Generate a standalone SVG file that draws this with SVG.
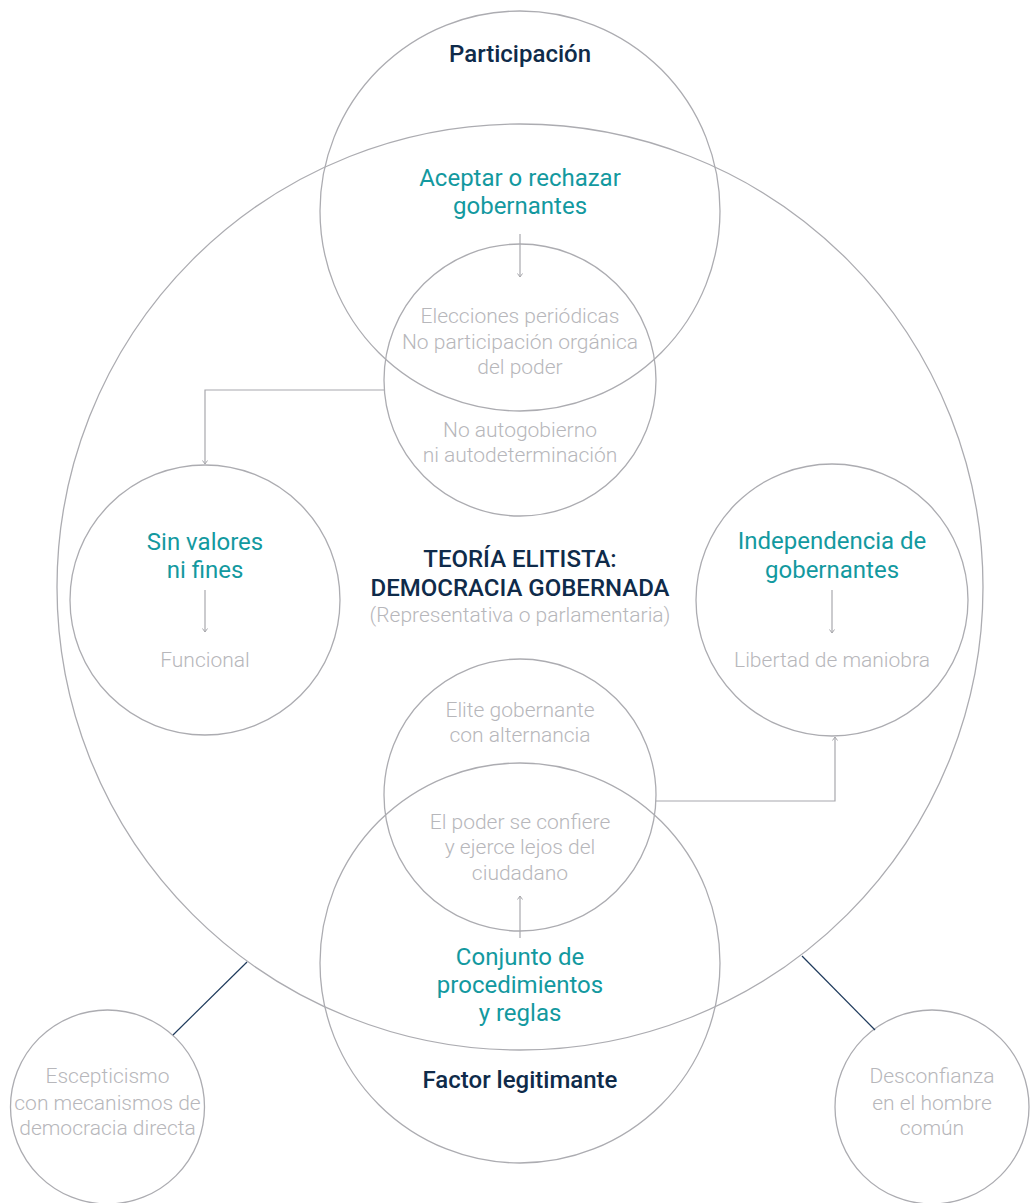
<svg xmlns="http://www.w3.org/2000/svg" width="1030" height="1203" viewBox="0 0 1030 1203">
<defs>
<marker id="ah" viewBox="0 0 8 8" refX="7" refY="4" markerWidth="8" markerHeight="8" markerUnits="userSpaceOnUse" orient="auto-start-reverse">
<path d="M3.5,1.5 L7,4 L3.5,6.5" fill="none" stroke="#a8a8ad" stroke-width="1"/>
</marker>
<style>
.c{fill:none;stroke:#acacb1;stroke-width:1.3}
.t{font-family:Roboto,"Liberation Sans",sans-serif;text-anchor:middle}
.nv{fill:#0f2b4a;font-weight:500;font-size:24px}
.tl{fill:#13999f;font-size:24px}
.g{fill:#b7b7bb;font-weight:300;font-size:21px}
.cn{fill:none;stroke:#a8a8ad;stroke-width:1.2}
.dk{fill:none;stroke:#1e3a5c;stroke-width:1.2}
</style>
</defs>
<rect width="1030" height="1203" fill="#ffffff"/>
<g id="main">
<circle class="c" cx="520" cy="587" r="463"/>
<text class="t nv" x="520" y="567">TEORÍA ELITISTA:</text>
<text class="t nv" x="520" y="596">DEMOCRACIA GOBERNADA</text>
<text class="t g" x="520" y="622">(Representativa o parlamentaria)</text>
</g>
<g id="participacion">
<circle class="c" cx="520" cy="211" r="200"/>
<text class="t nv" x="520" y="62">Participación</text>
<text class="t tl" x="520" y="186">Aceptar o rechazar</text>
<text class="t tl" x="520" y="214">gobernantes</text>
</g>
<g id="elecciones">
<circle class="c" cx="520" cy="380" r="136"/>
<text class="t g" x="520" y="323">Elecciones periódicas</text>
<text class="t g" x="520" y="349">No participación orgánica</text>
<text class="t g" x="520" y="374">del poder</text>
<text class="t g" x="520" y="437">No autogobierno</text>
<text class="t g" x="520" y="462">ni autodeterminación</text>
</g>
<g id="sinvalores">
<circle class="c" cx="205" cy="600" r="135"/>
<text class="t tl" x="205" y="550">Sin valores</text>
<text class="t tl" x="205" y="578">ni fines</text>
<text class="t g" x="205" y="667">Funcional</text>
</g>
<g id="independencia">
<circle class="c" cx="832" cy="600" r="136"/>
<text class="t tl" x="832" y="549">Independencia de</text>
<text class="t tl" x="832" y="578">gobernantes</text>
<text class="t g" x="832" y="667">Libertad de maniobra</text>
</g>
<g id="elite">
<circle class="c" cx="520" cy="795" r="136"/>
<text class="t g" x="520" y="717">Elite gobernante</text>
<text class="t g" x="520" y="742">con alternancia</text>
<text class="t g" x="520" y="829">El poder se confiere</text>
<text class="t g" x="520" y="854">y ejerce lejos del</text>
<text class="t g" x="520" y="880">ciudadano</text>
</g>
<g id="factor">
<circle class="c" cx="520" cy="963" r="200"/>
<text class="t tl" x="520" y="965">Conjunto de</text>
<text class="t tl" x="520" y="993">procedimientos</text>
<text class="t tl" x="520" y="1021">y reglas</text>
<text class="t nv" x="520" y="1088">Factor legitimante</text>
</g>
<g id="escepticismo">
<circle class="c" cx="107.5" cy="1107" r="97"/>
<text class="t g" x="107.5" y="1083">Escepticismo</text>
<text class="t g" x="107.5" y="1110">con mecanismos de</text>
<text class="t g" x="107.5" y="1135">democracia directa</text>
</g>
<g id="desconfianza">
<circle class="c" cx="932" cy="1107" r="97"/>
<text class="t g" x="932" y="1083">Desconfianza</text>
<text class="t g" x="932" y="1110">en el hombre</text>
<text class="t g" x="932" y="1135">común</text>
</g>
<g id="connectors">
<path class="cn" d="M520,234 V277" marker-end="url(#ah)"/>
<path class="cn" d="M384,390 H205 V464" marker-end="url(#ah)"/>
<path class="cn" d="M205,590 V632" marker-end="url(#ah)"/>
<path class="cn" d="M832,590 V633" marker-end="url(#ah)"/>
<path class="cn" d="M656,801 H835 V737" marker-end="url(#ah)"/>
<path class="cn" d="M520,938 V896" marker-end="url(#ah)"/>
<path class="dk" d="M173,1035 L247,962"/>
<path class="dk" d="M802,956 L875,1030"/>
</g>
</svg>
